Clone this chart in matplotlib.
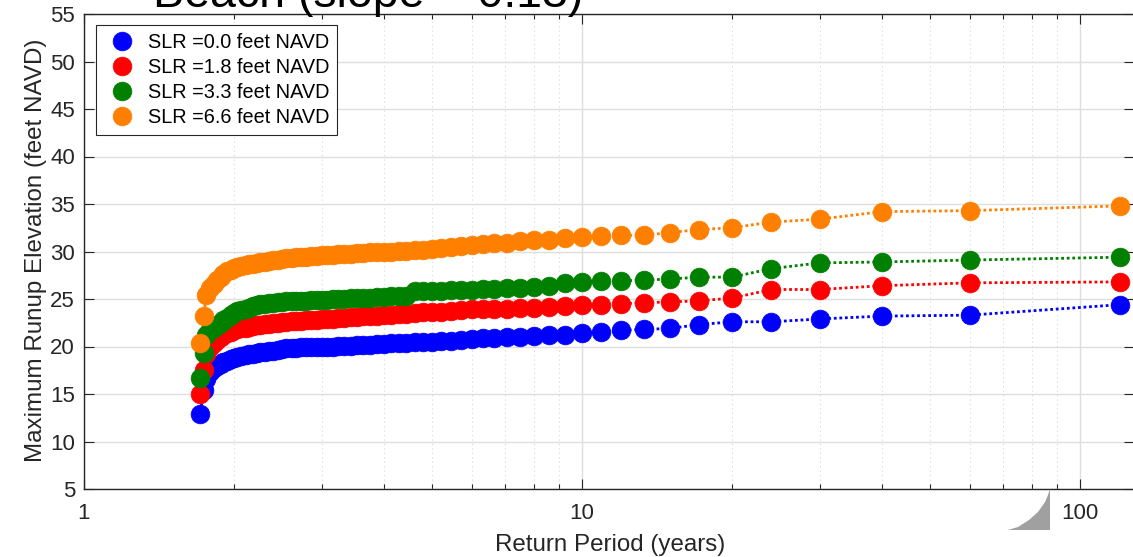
"""
Maximum runup elevation vs. return period for four sea level rise cases.
"""

import matplotlib
matplotlib.use("Agg")
import matplotlib.pyplot as plt
import matplotlib.ticker as mticker
from matplotlib.patches import Polygon
from matplotlib.transforms import Affine2D

plt.rcParams["font.family"] = ["Liberation Sans", "DejaVu Sans"]

TITLE = "Beach (slope = 0.13)"

# return periods (years), largest event first
return_period = [
    120.0, 60.0, 40.0, 30.0, 24.0, 20.0, 17.14, 15.0, 13.33, 12.0,
    10.91, 10.0, 9.23, 8.57, 8.0, 7.5, 7.06, 6.67, 6.32, 6.0,
    5.71, 5.45, 5.22, 5.0, 4.8, 4.62, 4.44, 4.29, 4.14, 4.0,
    3.87, 3.75, 3.64, 3.53, 3.43, 3.33, 3.24, 3.16, 3.08, 3.0,
    2.93, 2.86, 2.79, 2.73, 2.67, 2.61, 2.55, 2.5, 2.45, 2.4,
    2.35, 2.31, 2.26, 2.22, 2.18, 2.14, 2.11, 2.07, 2.03, 2.0,
    1.97, 1.94, 1.9, 1.88, 1.85, 1.82, 1.79, 1.76, 1.74, 1.71,
]

runup_slr_0_0 = [
    24.4, 23.3, 23.2, 22.9, 22.6, 22.6, 22.3, 21.9, 21.8, 21.7,
    21.5, 21.4, 21.2, 21.2, 21.1, 21.0, 21.0, 20.9, 20.9, 20.8,
    20.7, 20.6, 20.6, 20.5, 20.5, 20.5, 20.4, 20.4, 20.4, 20.3,
    20.3, 20.2, 20.2, 20.2, 20.1, 20.1, 20.1, 20.0, 20.0, 20.0,
    19.9, 19.9, 19.9, 19.9, 19.8, 19.8, 19.8, 19.7, 19.6, 19.5,
    19.5, 19.4, 19.4, 19.3, 19.2, 19.2, 19.1, 19.0, 18.9, 18.8,
    18.7, 18.5, 18.4, 18.2, 18.0, 17.7, 17.3, 16.6, 15.4, 12.9,
]

runup_slr_1_8 = [
    26.8, 26.7, 26.4, 26.0, 26.0, 25.1, 24.8, 24.7, 24.6, 24.5,
    24.4, 24.4, 24.3, 24.2, 24.1, 24.1, 24.0, 24.0, 23.9, 23.9,
    23.8, 23.7, 23.6, 23.6, 23.6, 23.5, 23.4, 23.4, 23.3, 23.3,
    23.2, 23.2, 23.2, 23.1, 23.1, 23.0, 23.0, 22.9, 22.9, 22.9,
    22.8, 22.8, 22.8, 22.7, 22.7, 22.7, 22.6, 22.6, 22.5, 22.5,
    22.4, 22.4, 22.3, 22.3, 22.2, 22.1, 22.0, 21.9, 21.8, 21.7,
    21.5, 21.4, 21.2, 21.0, 20.7, 20.4, 19.9, 19.2, 17.5, 15.0,
]

runup_slr_3_3 = [
    29.4, 29.1, 28.9, 28.8, 28.2, 27.3, 27.3, 27.1, 27.0, 26.9,
    26.9, 26.8, 26.7, 26.4, 26.3, 26.2, 26.2, 26.1, 26.1, 26.0,
    25.9, 25.9, 25.8, 25.8, 25.8, 25.8, 25.3, 25.3, 25.3, 25.2,
    25.2, 25.1, 25.1, 25.1, 25.1, 25.0, 25.0, 25.0, 24.9, 24.9,
    24.9, 24.9, 24.8, 24.8, 24.8, 24.8, 24.8, 24.7, 24.7, 24.6,
    24.6, 24.5, 24.5, 24.4, 24.3, 24.1, 24.0, 23.8, 23.7, 23.5,
    23.3, 23.0, 22.8, 22.5, 22.3, 22.0, 21.7, 21.2, 19.3, 16.7,
]

runup_slr_6_6 = [
    34.8, 34.3, 34.2, 33.4, 33.1, 32.5, 32.3, 32.0, 31.7, 31.7,
    31.6, 31.5, 31.4, 31.2, 31.2, 31.1, 30.9, 30.9, 30.8, 30.7,
    30.6, 30.5, 30.4, 30.3, 30.2, 30.2, 30.1, 30.1, 30.0, 30.0,
    29.9, 29.9, 29.8, 29.8, 29.7, 29.7, 29.7, 29.6, 29.6, 29.6,
    29.5, 29.5, 29.4, 29.4, 29.4, 29.3, 29.3, 29.2, 29.1, 29.1,
    29.0, 28.9, 28.9, 28.8, 28.7, 28.7, 28.6, 28.5, 28.4, 28.3,
    28.1, 27.9, 27.6, 27.3, 27.0, 26.6, 26.2, 25.4, 23.2, 20.4,
]

series = [
    ("SLR =0.0 feet NAVD", runup_slr_0_0, "#0000ff"),
    ("SLR =1.8 feet NAVD", runup_slr_1_8, "#ff0000"),
    ("SLR =3.3 feet NAVD", runup_slr_3_3, "#008000"),
    ("SLR =6.6 feet NAVD", runup_slr_6_6, "#ff8000"),
]

W, H = 1133, 557
fig = plt.figure(figsize=(W / 100, H / 100), dpi=100)
ax = fig.add_axes([84 / W, 68 / H, 1049.5 / W, 475 / H])

DARK = "#262626"

# dotted connectors underneath, filled circles on top
for label, y, c in series:
    ax.plot(return_period, y, linestyle=(0, (1, 1)), linewidth=2.0, color=c, zorder=2)
for label, y, c in series:
    ax.plot(return_period, y, linestyle="none", marker="o", markersize=13.5,
            markerfacecolor=c, markeredgecolor=c, markeredgewidth=0.5,
            label=label, zorder=3)

ax.set_xscale("log")
ax.set_xlim(1, 128)
ax.set_ylim(5, 55)
ax.set_yticks(range(5, 56, 5))
ax.xaxis.set_major_locator(mticker.LogLocator(base=10))
ax.xaxis.set_major_formatter(mticker.FuncFormatter(lambda v, p: f"{v:g}"))
ax.xaxis.set_minor_locator(mticker.LogLocator(base=10, subs=range(2, 10)))
ax.xaxis.set_minor_formatter(mticker.NullFormatter())

ax.grid(which="major", color="#dedede", linewidth=1.0, linestyle="-", zorder=0)
ax.grid(which="minor", axis="x", color="#d6d6d6", linewidth=0.8, linestyle=(0, (1, 3)), zorder=0)
ax.set_axisbelow(True)

ax.tick_params(which="both", direction="in", top=True, right=True,
               colors=DARK, labelsize=16, pad=6.5)
ax.tick_params(axis="x", which="both", pad=10)
ax.tick_params(which="major", length=7.5, width=0.8)
ax.tick_params(which="minor", length=3.8, width=0.8)
for s in ax.spines.values():
    s.set_color(DARK)
    s.set_linewidth(1.0)

ax.set_xlabel("Return Period (years)", fontsize=17.4, color=DARK)
ax.set_ylabel("Maximum Runup Elevation (feet NAVD)", fontsize=17.4, color=DARK)
ax.xaxis.set_label_coords(0.501, -0.094)
ax.yaxis.set_label_coords(-0.035, 0.503)

leg = ax.legend(loc="upper left", bbox_to_anchor=(12 / 1049.5, 464 / 475),
                borderaxespad=0, fontsize=14.3, handlelength=1.8,
                handletextpad=0.4, borderpad=0.4, labelspacing=0.31,
                fancybox=False, framealpha=1, edgecolor=DARK)
leg.get_frame().set_linewidth(0.8)
leg.set_zorder(5)

fig.text(153 / W, 1 - 7 / H, TITLE, fontsize=33.5, color="#000000",
         ha="left", va="baseline")

# grey corner notch below the axis
to_fig = Affine2D().scale(1 / W, -1 / H).translate(0, 1) + fig.transFigure
notch = Polygon([(1050, 489), (1050, 530), (1008, 530), (1018, 527), (1029, 520),
                 (1038, 512), (1045, 502), (1048, 495)],
                closed=True, facecolor="#a0a0a0", edgecolor="none", transform=to_fig)
fig.patches.append(notch)

fig.savefig("out.png", dpi=100)
